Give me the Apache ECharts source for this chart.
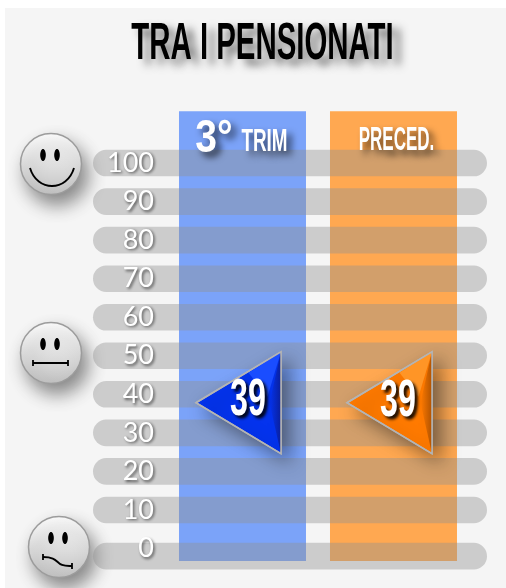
<!DOCTYPE html>
<html><head><meta charset="utf-8">
<style>html,body{margin:0;padding:0;background:#fff}#c{width:506px;height:588px}</style>
<script src="https://cdn.jsdelivr.net/npm/echarts@6/dist/echarts.min.js"></script>
</head><body><div id="c"></div>
<script>
const titleText = 'TRA I PENSIONATI';
const categories = ['3° TRIM', 'PRECED.'];
const values = [39, 39];
const columnPositions = [0.99, 1.99];
const columnColors = ['#7ba3f9', '#ffa851'];
const pointerColors = [
  {main:'#0433ee', light:'#1a4dff', dark:'#0a1f9c'},
  {main:'#ff7a00', light:'#ff9526', dark:'#b05200'}
];
const tickLevels = [100,90,80,70,60,50,40,30,20,10];
const bandLevels = [100,90,80,70,60,50,40,30,20,10,-2];
const columnExtent = [-1.27, 113.2];
const FONT = '"Liberation Sans",sans-serif';

function mouthLine(x1,y1,x2,y2){
  return {type:'line',shape:{x1,y1,x2,y2},style:{stroke:'#000',lineWidth:1.8}};
}
function mouthCurve(x1,y1,cpx1,cpy1,cpx2,cpy2,x2,y2){
  return {type:'bezierCurve',shape:{x1,y1,cpx1,cpy1,cpx2,cpy2,x2,y2},style:{fill:'none',stroke:'#000',lineWidth:1.9}};
}
function face(cx, cy, mouth){
  return {type:'group', x:cx, y:cy, children:[
    {type:'circle', shape:{r:30.5}, style:{
      fill:{type:'linear',x:0,y:0,x2:0,y2:1,colorStops:[{offset:0,color:'#fdfdfd'},{offset:.4,color:'#e6e6e6'},{offset:1,color:'#c2c2c2'}]},
      stroke:'#9c9c9c', lineWidth:1.5, shadowBlur:18, shadowOffsetX:6, shadowOffsetY:10, shadowColor:'rgba(0,0,0,.45)'}},
    {type:'ellipse', shape:{cx:-8,cy:-9,rx:2.8,ry:6}, style:{fill:'#000'}},
    {type:'ellipse', shape:{cx:6,cy:-9,rx:2.8,ry:6}, style:{fill:'#000'}}
  ].concat(mouth)};
}

const chart = echarts.init(document.getElementById('c'), null, {renderer:'canvas'});
chart.setOption({
  animation:false,
  backgroundColor:'#ffffff',
  graphic:{elements:[
    {type:'rect',z:-10,silent:true,shape:{x:5,y:8,width:501,height:580},style:{fill:'#f5f5f5'}},
    {type:'text',z:10,x:262.5,y:44.5,scaleX:0.565,silent:true,style:{text:titleText,fill:'#000',font:'bold 52px '+FONT,align:'center',verticalAlign:'middle',
      textShadowColor:'rgba(0,0,0,.55)',textShadowBlur:8,textShadowOffsetX:8,textShadowOffsetY:6}},
    face(51,164,[mouthCurve(-21,4,-14,28,16,28,23,4)]),
    face(51,353,[mouthLine(-18,10,17,10),mouthLine(-18,7,-18,13),mouthLine(17,7,17,13)]),
    face(59,547,[mouthCurve(-16,10,3,10,-6,20,13,19),mouthLine(-16,7,-16,13),mouthLine(13,16,13,22)])
  ]},
  grid:{left:93,width:394,top:86,height:501,containLabel:false},
  xAxis:{type:'value',min:0,max:394/151,show:false},
  yAxis:[
    {type:'value',min:-10,max:120,interval:10,z:4,
      axisLine:{show:false},axisTick:{show:false},splitLine:{show:false},
      axisLabel:{inside:true,margin:61,align:'right',padding:[3,0,0,0],fontFamily:'Lato,"Open Sans",sans-serif',fontSize:27,color:'#fff',
        textShadowColor:'rgba(60,60,60,.8)',textShadowBlur:3,textShadowOffsetX:1.5,textShadowOffsetY:1.5,
        formatter:v=>tickLevels.includes(v)||v===0?String(v):''}},
    {type:'value',min:-7.89,max:119.6,show:false}
  ],
  series:[
    {type:'custom',z:1,yAxisIndex:1,coordinateSystem:'cartesian2d',
      data:columnPositions.map((p,i)=>[p,i]),
      renderItem(params,api){
        const i=api.value(1), w=api.size([.841,0])[0];
        const a=api.coord([api.value(0),columnExtent[1]]), b=api.coord([api.value(0),columnExtent[0]]);
        return {type:'rect',shape:{x:a[0]-w/2,y:a[1],width:w,height:b[1]-a[1]},style:{fill:columnColors[i]}};
      }},
    {type:'custom',z:2,yAxisIndex:0,data:bandLevels.map(v=>[0,v]),
      renderItem(params,api){
        const p=api.coord([0,api.value(1)]), w=api.size([394/151,0])[0], h=api.size([0,6.9])[1];
        return {type:'rect',shape:{x:p[0],y:p[1]-h/2,width:w,height:h,r:h/2},style:{fill:'rgba(145,145,145,.41)'}};
      }},
    {type:'custom',z:5,yAxisIndex:1,data:columnPositions.map((p,i)=>[p,values[i],i]),
      renderItem(params,api){
        const p=api.coord([api.value(0),api.value(1)]), i=api.value(2), c=pointerColors[i];
        const x=p[0], y=p[1];
        const tip=[x-46.5,y], top=[x+38.5,y-51], bot=[x+38.5,y+51], inner=[x+27,y];
        return {type:'group',children:[
          {type:'polygon',shape:{points:[tip,top,bot]},style:{fill:c.main,stroke:'#b4b4b4',lineWidth:1.5,
            shadowBlur:18,shadowOffsetX:8,shadowOffsetY:8,shadowColor:'rgba(0,0,0,.42)'}},
          {type:'polygon',shape:{points:[[x+6,y-30],top,[x+25,y-6]]},style:{fill:c.light}},
          {type:'polygon',shape:{points:[top,bot,inner]},style:{
            fill:{type:'linear',x:0,y:0,x2:1,y2:0,colorStops:[{offset:0,color:c.main},{offset:1,color:c.dark}]}}},
          {type:'polygon',shape:{points:[tip,top,bot]},style:{fill:'none',stroke:'#b4b4b4',lineWidth:1.5}},
          {type:'text',x:x+(i?4.5:5.5),y:y+(i?-1:-2.5),scaleX:0.62,style:{text:String(Math.round(api.value(1))),fill:'#fff',
            font:'bold 52px '+FONT,align:'center',verticalAlign:'middle',
            textShadowColor:'rgba(0,0,0,.9)',textShadowBlur:3,textShadowOffsetX:3,textShadowOffsetY:3}}
        ]};
      }},
    {type:'custom',z:6,yAxisIndex:1,data:columnPositions.map((p,i)=>[p,i]),
      renderItem(params,api){
        const i=api.value(1), p=api.coord([api.value(0),columnExtent[1]]);
        const m=categories[i].match(/^(\S+°) (.*)$/);
        const shadow={fill:'#fff',align:'center',verticalAlign:'middle',textShadowColor:'rgba(0,0,0,.7)',textShadowBlur:7,textShadowOffsetX:5,textShadowOffsetY:5};
        if(m){
          return {type:'group',children:[
            {type:'text',x:p[0]-28.5,y:p[1]+28,scaleX:.85,style:Object.assign({text:m[1],font:'bold 46px '+FONT},shadow)},
            {type:'text',x:p[0]+22,y:p[1]+31,scaleX:.59,style:Object.assign({text:m[2],font:'bold 32px '+FONT},shadow)}
          ]};
        }
        return {type:'text',x:p[0]+3,y:p[1]+29,scaleX:.5,style:Object.assign({text:categories[i],font:'bold 34px '+FONT},shadow)};
      }}
  ]
});
</script></body></html>
